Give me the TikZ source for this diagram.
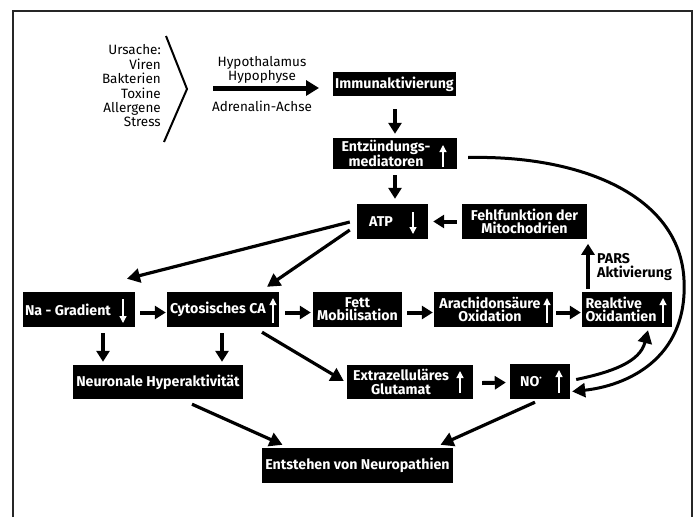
\documentclass[tikz,border=0pt]{standalone}
\usepackage{fontspec}
\setmainfont{Fira Sans}
\usetikzlibrary{arrows.meta,calc}
\begin{document}
\begin{tikzpicture}[x=1pt,y=-1pt,
  box/.style={fill=black, draw=none, inner sep=0pt},
  btext/.style={text=white, font=\fontsize{14.2}{13.2}\selectfont\bfseries, align=center, inner sep=0pt},
  plain/.style={font=\fontsize{13.5}{14.4}\selectfont, inner sep=0pt},
  arr/.style={line width=4pt, -{Triangle[width=13pt,length=11pt]}},
  darr/.style={line width=3.2pt, -{Triangle[width=14pt,length=13pt]}},
  carr/.style={line width=3pt, -{Triangle[width=14pt,length=13pt]}},
  warr/.style={draw=white, line width=1.3pt, -{Triangle[width=7pt,length=7pt]}},
]
\useasboundingbox (0,0) rectangle (695,517);

% frame
\draw[line width=1.5pt, black!85] (13,517) -- (13,11) -- (692,11) -- (692,517);

% causes and the bracket
\node[plain, align=right, anchor=east] (causes) at (161,86)
  {Ursache:\\Viren\\Bakterien\\Toxine\\Allergene\\Stress};
\draw[line width=2pt] (166,36) -- (187,89) -- (164,142);

% hypothalamus axis
\coordinate (axA) at (213,88);
\coordinate (axB) at (319,88);
\node[plain, align=center, font=\fontsize{13.5}{11}\selectfont] (hyp) at (262,70) {Hypothalamus\\Hypophyse};
\node[plain] (adr) at (262,106) {Adrenalin-Achse};
\draw[line width=5pt, -{Triangle[width=15pt,length=13pt]}] (axA) -- (axB);

% boxes
\node[box, minimum width=123pt, minimum height=24pt] (imm) at (394.5,84) {};
\node[btext] (imm-t) at (394.5,84) {Immunaktivierung};

\node[box, minimum width=124pt, minimum height=31pt] (entz) at (395,153.5) {};
\node[btext] (entz-t) at (386,153.5) {Entzündungs-\\mediatoren};

\node[box, minimum width=71pt, minimum height=35pt] (atp) at (392.5,221.5) {};
\node[btext] (atp-t) at (381,221.5) {ATP};

\node[box, minimum width=125pt, minimum height=35pt] (fehl) at (524.5,221.5) {};
\node[btext] (fehl-t) at (524.5,221.5) {Fehlfunktion der\\Mitochodrien};

\node[box, minimum width=112pt, minimum height=35pt] (na) at (79,309.5) {};
\node[btext] (na-t) at (68,309.5) {Na - Gradient};

\node[box, minimum width=112pt, minimum height=35pt] (cyto) at (223,309.5) {};
\node[btext] (cyto-t) at (218,309.5) {Cytosisches CA};

\node[box, minimum width=89pt, minimum height=35pt] (fett) at (357.5,309.5) {};
\node[btext] (fett-t) at (357.5,309.5) {Fett\\Mobilisation};

\node[box, minimum width=119pt, minimum height=35pt] (arach) at (493.5,309.5) {};
\node[btext] (arach-t) at (490,309.5) {Arachidonsäure\\Oxidation};

\node[box, minimum width=90pt, minimum height=35pt] (reak) at (627,309.5) {};
\node[btext, align=left] (reak-t) at (621,309.5) {Reaktive\\Oxidantien};

\node[box, minimum width=170pt, minimum height=34pt] (neur) at (158,382) {};
\node[btext] (neur-t) at (158,382) {Neuronale Hyperaktivität};

\node[box, minimum width=126pt, minimum height=34pt] (glut) at (410,382) {};
\node[btext] (glut-t) at (401,382) {Extrazelluläres\\Glutamat};

\node[box, minimum width=60pt, minimum height=35pt] (no) at (540,381.5) {};
\node[btext] (no-t) at (531,381.5) {NO\raisebox{0.42em}{\fontsize{7}{7}\selectfont\textbullet}};

\node[box, minimum width=191pt, minimum height=35pt] (ent) at (357.5,465.5) {};
\node[btext] (ent-t) at (357.5,465.5) {Entstehen von Neuropathien};

% up / down marks inside the boxes
\draw[warr] (443,167) -- (443,145);
\draw[warr] (413,212) -- (413,234);
\draw[warr] (123,299) -- (123,323);
\draw[warr] (273,323) -- (273,298);
\draw[warr] (547,323) -- (547,298);
\draw[warr] (663,323) -- (663,298);
\draw[warr] (460,393) -- (460,371);
\draw[warr] (559,393) -- (559,370);

% straight connectors
\draw[arr] ($(imm.south)+(0.5,13)$) -- ($(entz.north)+(0,-4)$);
\draw[arr] ($(entz.south)+(0,6)$) -- ($(atp.north)+(2.5,-5)$);
\draw[arr] ($(fehl.west)+(-5,0)$) -- ($(atp.east)+(5,0)$);
\draw[arr] ($(reak.north)+(-39,-3)$) -- ($(reak.north)+(-39,-48)$);
\node[inner sep=0pt, anchor=west, align=left, font=\fontsize{14.2}{13.2}\selectfont\bfseries] (pars) at (597,267) {PARS\\Aktivierung};

\draw[arr] ($(na.east)+(5,3)$) -- ($(cyto.west)+(-1,3)$);
\draw[arr] ($(cyto.east)+(6,3)$) -- ($(fett.west)+(-2,3)$);
\draw[arr] ($(fett.east)+(5,3)$) -- ($(arach.west)+(-1,3)$);
\draw[arr] ($(arach.east)+(3,3)$) -- ($(reak.west)+(-1,3)$);
\draw[arr] ($(glut.east)+(9,1)$) -- ($(no.west)+(-4,1)$);

\draw[arr] ($(na.south)+(24,6)$) -- ($(neur.north)+(-55,-3)$);
\draw[arr] ($(cyto.south)+(-1,6)$) -- ($(neur.north)+(64,-3)$);

\draw[darr] ($(atp.west)+(-7,0.5)$) -- ($(na.north)+(48,-13)$);
\draw[darr] ($(atp.west)+(-7,8.5)$) -- ($(cyto.north)+(44,-5)$);
\draw[darr] ($(cyto.south)+(39,5)$) -- ($(glut.west)+(-3,-1)$);
\draw[darr] ($(neur.south)+(34,5)$) -- ($(ent.north)+(-75,-3)$);
\draw[darr] ($(no.south)+(-5,3)$) -- ($(ent.north)+(83,-3)$);

% curved connectors
\draw[carr] ($(entz.east)+(11,4)$) .. controls (580,155) and (680,195) .. (684,280)
  .. controls (688,360) and (625,386) .. ($(no.east)+(2,10)$);
\draw[carr] ($(no.east)+(6,-2)$) .. controls (612,372) and (640,362) .. ($(reak.south)+(21,3)$);
\end{tikzpicture}
\end{document}
